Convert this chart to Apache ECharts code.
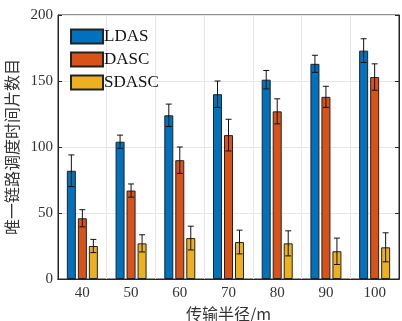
<!DOCTYPE html>
<html><head><meta charset="utf-8">
<script src="https://cdn.jsdelivr.net/npm/echarts@6/dist/echarts.min.js"></script>
<style>html,body{margin:0;padding:0;background:#fff}#c{width:402px;height:321px}</style>
</head><body><div id="c"></div>
<script>
const categories = ['40','50','60','70','80','90','100'];
const seriesNames = ['LDAS','DASC','SDASC'];
const ldas = [82, 104, 124, 140, 151, 163, 173];
const dasc = [46, 67, 90, 109, 127, 138, 153];
const sdasc = [25, 27, 31, 28, 27, 21, 24];
const ldasErr = [12, 5, 8.5, 10, 7, 6.5, 9];
const dascErr = [6.5, 5, 10, 12, 9.5, 8, 10];
const sdascErr = [5, 6.5, 9, 9, 9.5, 10, 11];
const yTicks = [0, 50, 100, 150, 200];

const colors = ['#0072BD', '#D95319', '#EDB120'];
const values = [ldas, dasc, sdasc];
const errs = [ldasErr, dascErr, sdascErr];
const BW = 9, GAP = 2;
const serif = '"Liberation Serif","Times New Roman",serif';

const series = [];
values.forEach((v, i) => {
  series.push({
    name: seriesNames[i], type: 'bar', data: v, barWidth: BW, barGap: (GAP / BW * 100) + '%',
    itemStyle: { color: colors[i], borderColor: '#222', borderWidth: 1 },
    z: 2
  });
});
values.forEach((v, i) => {
  const off = (i - 1) * (BW + GAP);
  series.push({
    type: 'custom', z: 5, silent: true,
    data: v.map((val, k) => [k, val - errs[i][k], val + errs[i][k]]),
    renderItem: function (params, api) {
      const lo = api.coord([api.value(0), api.value(1)]);
      const hi = api.coord([api.value(0), api.value(2)]);
      const x = lo[0] + off, c = 3;
      const st = { stroke: '#111', lineWidth: 1 };
      return { type: 'group', children: [
        { type: 'line', shape: { x1: x, y1: lo[1], x2: x, y2: hi[1] }, style: st },
        { type: 'line', shape: { x1: x - c, y1: lo[1], x2: x + c, y2: lo[1] }, style: st },
        { type: 'line', shape: { x1: x - c, y1: hi[1], x2: x + c, y2: hi[1] }, style: st }
      ]};
    }
  });
});

const chart = echarts.init(document.getElementById('c'));
chart.setOption({
  animation: false,
  textStyle: { fontFamily: serif },
  grid: { left: 58, right: 3, top: 15, bottom: 42, show: true, borderColor: '#262626', borderWidth: 1,
          outerBoundsMode: 'none', containLabel: false },
  legend: {
    data: seriesNames, orient: 'vertical', left: 70, top: 28, padding: 0, itemWidth: 32, itemHeight: 14, itemGap: 6,
    icon: 'rect', textStyle: { fontFamily: serif, fontSize: 17, color: '#111', padding: [0, 0, 0, -4] }
  },
  xAxis: [{
    type: 'category', data: categories, position: 'bottom',
    name: '传输半径/m', nameLocation: 'middle', nameGap: 25,
    nameTextStyle: { fontFamily: '"Noto Sans CJK SC",' + serif, fontSize: 16, color: '#333' },
    axisLine: { lineStyle: { color: '#262626' } },
    axisTick: { inside: true, alignWithLabel: true, length: 4, lineStyle: { color: '#262626' } },
    axisLabel: { fontFamily: serif, fontSize: 15, color: '#333', margin: 7 },
    splitLine: { show: true, lineStyle: { color: '#e6e6e6' } }
  }, {
    type: 'category', data: categories, position: 'top',
    axisLine: { lineStyle: { color: '#262626' } },
    axisTick: { inside: true, alignWithLabel: true, length: 4, lineStyle: { color: '#262626' } },
    axisLabel: { show: false }
  }],
  yAxis: [{
    type: 'value', min: yTicks[0], max: yTicks[yTicks.length - 1], interval: 50,
    name: '唯一链路调度时间片数目', nameLocation: 'middle', nameGap: 35,
    nameTextStyle: { fontFamily: '"Noto Sans CJK SC",' + serif, fontSize: 16, color: '#333' },
    axisLine: { show: true, lineStyle: { color: '#262626' } },
    axisTick: { show: true, inside: true, length: 4, lineStyle: { color: '#262626' } },
    axisLabel: { fontFamily: serif, fontSize: 15, color: '#333', margin: 5 },
    splitLine: { show: true, lineStyle: { color: '#e6e6e6' } }
  }, {
    type: 'value', min: yTicks[0], max: yTicks[yTicks.length - 1], interval: 50, position: 'right',
    axisLine: { show: true, lineStyle: { color: '#262626' } },
    axisTick: { show: true, inside: true, length: 4, lineStyle: { color: '#262626' } },
    axisLabel: { show: false }, splitLine: { show: false }
  }],
  series: series
});
</script></body></html>
